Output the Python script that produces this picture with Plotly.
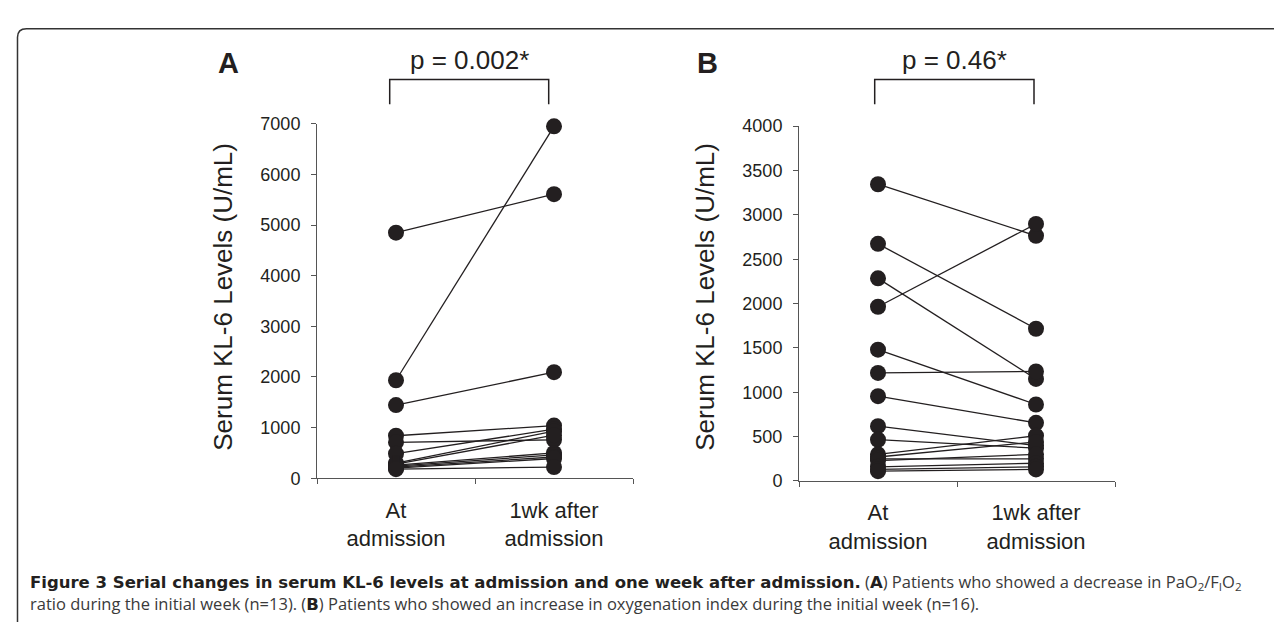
import plotly.graph_objects as go

# ---------------- data ----------------
categories = ["At<br>admission", "1wk after<br>admission"]

# Panel A: patients with decrease in PaO2/FiO2 (n=13)
a_admission = [4850, 1935, 1445, 840, 710, 485, 300, 280, 260, 240, 220, 200, 180]
a_week      = [5610, 6950, 2095, 1040, 760, 970, 930, 850, 500, 460, 420, 390, 220]

# Panel B: patients with increase in oxygenation index (n=16)
b_admission = [3345, 2673, 2284, 1964, 1480, 1218, 956, 618, 465, 300, 270, 250, 230, 160, 130, 110]
b_week      = [2764, 1716, 1150, 2898, 862, 1235, 655, 400, 370, 510, 440, 250, 300, 200, 160, 130]

a_yticks = [0, 1000, 2000, 3000, 4000, 5000, 6000, 7000]
b_yticks = [0, 500, 1000, 1500, 2000, 2500, 3000, 3500, 4000]

y_title = "Serum KL-6 Levels (U/mL)"
p_texts = ["p = 0.002*", "p = 0.46*"]
panel_labels = ["A", "B"]

BOLD = '<span style="font-family:\'DejaVu Sans\';font-weight:bold;color:#231f20">%s</span>'
caption_line1 = (BOLD % "Figure 3 Serial changes in serum KL-6 levels at admission and one week after admission."
                 + " (" + BOLD % "A" + ") Patients who showed a decrease in PaO<sub>2</sub>/F<sub>I</sub>O<sub>2</sub>")
caption_line2 = ("ratio during the initial week (n=13). (" + BOLD % "B" + ") Patients who showed an increase in "
                 "oxygenation index during the initial week (n=16).")

# ---------------- helpers ----------------
W, H = 1282, 624
def px(x):
    return x / W
def py(y):
    return 1 - y / H

def paired(adm, wk):
    xs, ys = [], []
    for a, w in zip(adm, wk):
        xs += [categories[0], categories[1], None]
        ys += [a, w, None]
    return xs, ys

INK = "#231f20"
AXC = "#555555"
FONT = "Liberation Sans, Arial, sans-serif"

fig = go.Figure()

xa, ya = paired(a_admission, a_week)
xb, yb = paired(b_admission, b_week)

common = dict(mode="lines+markers", cliponaxis=False, hoverinfo="skip",
              line=dict(color=INK, width=1.3),
              marker=dict(size=16, color=INK))
fig.add_trace(go.Scatter(x=xa, y=ya, xaxis="x", yaxis="y", **common))
fig.add_trace(go.Scatter(x=xb, y=yb, xaxis="x2", yaxis="y2", **common))

xaxis_common = dict(type="category", categoryorder="array", categoryarray=categories,
                    range=[-0.5, 1.5], tickson="boundaries", ticks="outside", ticklen=5,
                    tickcolor=AXC, tickwidth=1, showline=True, linecolor=AXC, linewidth=1,
                    showgrid=False, zeroline=False, fixedrange=True, ticklabelstandoff=12,
                    tickfont=dict(family=FONT, size=22, color=INK))
yaxis_common = dict(ticks="outside", ticklen=5, tickcolor=AXC, tickwidth=1,
                    showline=True, linecolor=AXC, linewidth=1, showgrid=False,
                    zeroline=False, fixedrange=True, ticklabelstandoff=7,
                    tickfont=dict(family=FONT, size=18, color=INK))

fig.update_layout(
    width=W, height=H,
    margin=dict(l=0, r=0, t=0, b=0),
    paper_bgcolor="white", plot_bgcolor="white",
    showlegend=False,
    xaxis=dict(domain=[px(309), px(625)], anchor="y", **xaxis_common),
    yaxis=dict(domain=[py(475.5), py(109.3)], anchor="x", range=[0, 7000],
               tickvals=a_yticks, **yaxis_common),
    xaxis2=dict(domain=[px(791), px(1107)], anchor="y2", **xaxis_common),
    yaxis2=dict(domain=[py(478.3), py(111.7)], anchor="x2", range=[0, 4000],
                tickvals=b_yticks, **yaxis_common),
)

annotations = []
shapes = []

# axis titles
for xc in (215, 697):
    annotations.append(dict(text=y_title, x=px(xc), y=py(288), xref="paper", yref="paper",
                            textangle=-90, showarrow=False, xanchor="center", yanchor="middle",
                            font=dict(family=FONT, size=26, color=INK)))

# panel letters
for lab, xc in zip(panel_labels, (220, 699)):
    annotations.append(dict(text="<b>%s</b>" % lab, x=px(xc), y=py(46), xref="paper", yref="paper",
                            showarrow=False, xanchor="center", yanchor="middle",
                            font=dict(family=FONT, size=29, color=INK)))

# p-value text and brackets
for txt, (x0, x1) in zip(p_texts, ((381.7, 540.7), (866.7, 1026))):
    annotations.append(dict(text=txt, x=px((x0 + x1) / 2), y=py(43), xref="paper", yref="paper",
                            showarrow=False, xanchor="center", yanchor="middle",
                            font=dict(family=FONT, size=26, color=INK)))
    path = "M %f,%f L %f,%f L %f,%f L %f,%f" % (px(x0), py(89), px(x0), py(63.5),
                                                 px(x1), py(63.5), px(x1), py(89))
    shapes.append(dict(type="path", path=path, xref="paper", yref="paper",
                       line=dict(color=INK, width=1.5)))

# frame (left + top with rounded corner)
frame = "M %f,%f L %f,%f Q %f,%f %f,%f L %f,%f" % (
    px(9.5), py(624), px(9.5), py(20), px(9.5), py(11), px(18.5), py(11), px(1282), py(11))
shapes.append(dict(type="path", path=frame, xref="paper", yref="paper",
                   line=dict(color="#333333", width=1.5)))

# caption
annotations.append(dict(text=caption_line1, x=px(20), y=py(583), xref="paper", yref="paper",
                        showarrow=False, xanchor="left", yanchor="middle", align="left",
                        font=dict(family="Open Sans, sans-serif", size=16.5, color="#3a3a3a")))
annotations.append(dict(text=caption_line2, x=px(20), y=py(605), xref="paper", yref="paper",
                        showarrow=False, xanchor="left", yanchor="middle", align="left",
                        font=dict(family="Open Sans, sans-serif", size=16.5, color="#3a3a3a")))

fig.update_layout(annotations=annotations, shapes=shapes)

fig.write_html("out.html")
